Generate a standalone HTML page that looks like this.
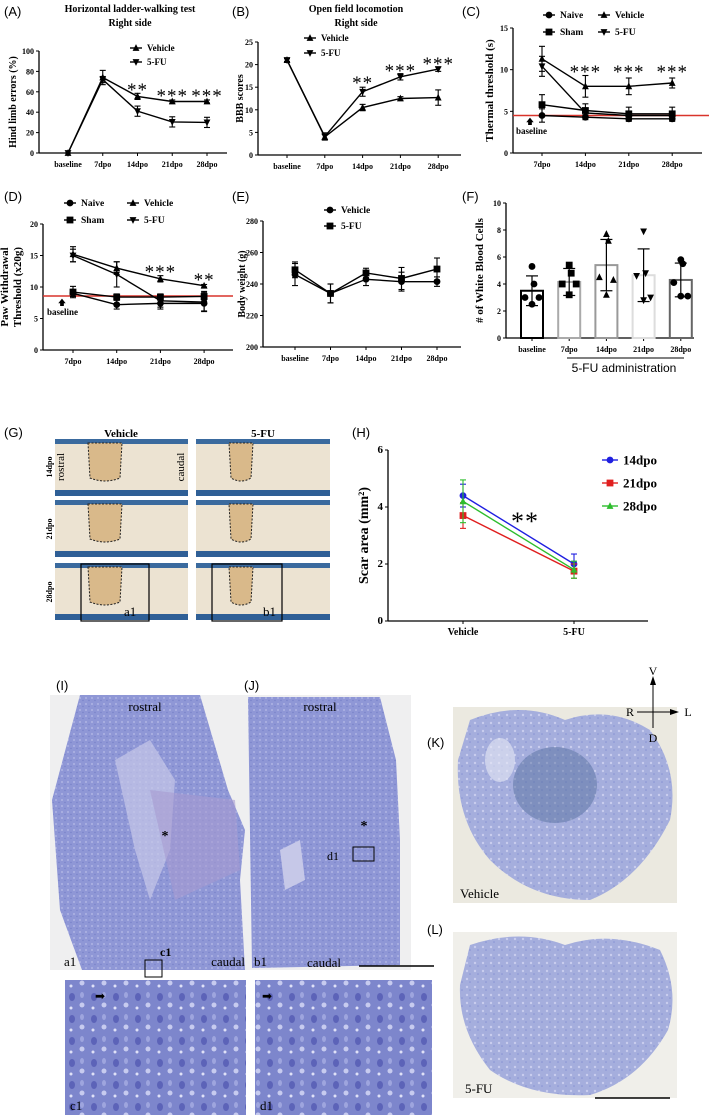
<!DOCTYPE html>
<html><head><meta charset="utf-8">
<style>
html,body{margin:0;padding:0;background:#fff;}
svg{display:block;font-family:"Liberation Serif",serif;}
.b{font-weight:bold;}
.lab{font-family:"Liberation Sans",sans-serif;font-size:13px;}
</style></head>
<body>
<svg id="fig" width="709" height="1115" viewBox="0 0 709 1115" xmlns="http://www.w3.org/2000/svg">
<defs>
<pattern id="tex" width="6" height="6" patternUnits="userSpaceOnUse"><rect width="6" height="6" fill="#8f97d6"/><circle cx="2" cy="2" r="0.9" fill="#b8bde8"/><circle cx="5" cy="4.5" r="0.7" fill="#7680c8"/></pattern>
<pattern id="cells" width="22" height="22" patternUnits="userSpaceOnUse"><rect width="22" height="22" fill="#7d86cc"/><ellipse cx="6" cy="7" rx="3" ry="4" fill="#5c63b8"/><circle cx="16" cy="15" r="2.5" fill="#c7cbef"/><ellipse cx="16" cy="5" rx="2" ry="3" fill="#9ea5de"/><circle cx="5" cy="18" r="1.5" fill="#dfe1f7"/></pattern>
<pattern id="sec" width="8" height="8" patternUnits="userSpaceOnUse"><rect width="8" height="8" fill="#a5aedd"/><circle cx="3" cy="3" r="1.2" fill="#c9cdee"/><circle cx="6" cy="6" r="0.8" fill="#8791d3"/></pattern>
</defs>

<g class="lab">
<text x="4" y="16">(A)</text>
<text x="232" y="16">(B)</text>
<text x="462" y="16">(C)</text>
<text x="4" y="201">(D)</text>
<text x="232" y="201">(E)</text>
<text x="462" y="201">(F)</text>
<text x="4" y="437">(G)</text>
<text x="352" y="437">(H)</text>
<text x="56" y="690">(I)</text>
<text x="244" y="690">(J)</text>
<text x="427" y="747">(K)</text>
<text x="427" y="934">(L)</text>
</g>

<text x="130" y="12" text-anchor="middle" class="b" font-size="10">Horizontal ladder-walking test</text>
<text x="130" y="26" text-anchor="middle" class="b" font-size="10">Right side</text>
<text x="356" y="12" text-anchor="middle" class="b" font-size="10">Open field locomotion</text>
<text x="356" y="26" text-anchor="middle" class="b" font-size="10">Right side</text>

<g id="charts"></g>

<g id="gpanel">
<text x="121" y="437" text-anchor="middle" class="b" font-size="11">Vehicle</text>
<text x="263" y="437" text-anchor="middle" class="b" font-size="11">5-FU</text>
<text transform="translate(52,467) rotate(-90)" text-anchor="middle" class="b" font-size="8">14dpo</text>
<text transform="translate(52,529) rotate(-90)" text-anchor="middle" class="b" font-size="8">21dpo</text>
<text transform="translate(52,592) rotate(-90)" text-anchor="middle" class="b" font-size="8">28dpo</text>
</g>

<g>
<rect x="50" y="695" width="195" height="275" fill="#efeff0"/>
<path d="M80,695 L200,695 L228,790 L245,830 L240,880 L245,970 L82,970 L60,910 L52,800 Z" fill="url(#tex)"/>
<path d="M115,760 L150,740 L175,780 L170,850 L150,900 L135,850 Z" fill="#c6c8e8" opacity="0.7"/>
<path d="M150,790 L235,800 L240,870 L175,900 Z" fill="#a79bd0" opacity="0.6"/>
<text x="145" y="711" text-anchor="middle" font-size="13">rostral</text>
<text x="165" y="840" text-anchor="middle" font-size="14" class="b">*</text>
<text x="160" y="956" font-size="12" class="b">c1</text>
<rect x="145" y="960" width="17" height="17" fill="none" stroke="#000" stroke-width="1"/>
<text x="64" y="966" font-size="13">a1</text>
<text x="245" y="966" text-anchor="end" font-size="13">caudal</text>
</g>
<g>
<rect x="245" y="695" width="166" height="275" fill="#efeff0"/>
<path d="M248,697 L380,697 L396,760 L400,840 L400,965 L252,968 Z" fill="url(#tex)"/>
<path d="M280,850 L300,840 L305,880 L285,890 Z" fill="#c6c8e8"/>
<text x="320" y="711" text-anchor="middle" font-size="13">rostral</text>
<text x="364" y="830" text-anchor="middle" font-size="14" class="b">*</text>
<text x="339" y="860" text-anchor="end" font-size="12">d1</text>
<rect x="353" y="847" width="21" height="14" fill="none" stroke="#000" stroke-width="1"/>
<text x="254" y="966" font-size="13">b1</text>
<text x="324" y="967" text-anchor="middle" font-size="13">caudal</text>
<line x1="359" y1="966" x2="434" y2="966" stroke="#000" stroke-width="1.5"/>
</g>
<rect x="65" y="980" width="181" height="135" fill="url(#cells)"/>
<text x="70" y="1110" font-size="13">c1</text>
<text x="95" y="1000" font-size="12">➡</text>
<rect x="255" y="980" width="177" height="135" fill="url(#cells)"/>
<text x="260" y="1110" font-size="13">d1</text>
<text x="262" y="1000" font-size="12">➡</text>

<g>
<rect x="453" y="707" width="224" height="196" fill="#ebe9e0"/>
<path d="M470,720 Q520,700 565,720 Q610,705 650,730 Q680,770 670,820 Q640,880 590,900 Q530,900 490,860 Q455,820 458,760 Z" fill="url(#sec)"/>
<ellipse cx="555" cy="785" rx="42" ry="38" fill="#4f6a98" opacity="0.45"/>
<ellipse cx="500" cy="760" rx="15" ry="22" fill="#e6e7f5" opacity="0.6"/>
<text x="460" y="898" font-size="13">Vehicle</text>
</g>
<g>
<line x1="653" y1="680" x2="653" y2="728" stroke="#000" stroke-width="1"/>
<line x1="637" y1="712" x2="674" y2="712" stroke="#000" stroke-width="1"/>
<path d="M650,685 L653,676 L656,685 Z M670,709 L679,712 L670,715 Z" fill="#000"/>
<text x="653" y="675" text-anchor="middle" font-size="12">V</text>
<text x="630" y="716" text-anchor="middle" font-size="12">R</text>
<text x="688" y="716" text-anchor="middle" font-size="12">L</text>
<text x="653" y="742" text-anchor="middle" font-size="12">D</text>
</g>
<g>
<rect x="453" y="932" width="224" height="166" fill="#f0efea"/>
<path d="M470,945 Q520,928 565,945 Q610,930 660,950 Q680,990 668,1030 Q640,1080 590,1095 Q530,1098 490,1070 Q458,1030 460,985 Z" fill="url(#sec)"/>
<text x="465" y="1093" font-size="13">5-FU</text>
<line x1="595" y1="1098" x2="670" y2="1098" stroke="#000" stroke-width="1.5"/>
</g>

<script>
// ---------- DATA ----------
var catsA = ["baseline","7dpo","14dpo","21dpo","28dpo"];
var aVehicle = [0,74,55.5,50.5,50.5];
var aVehicleErr = [0,7,3,1.5,1.5];
var a5FU = [0,72,41,30.5,30];
var a5FUErr = [0,3,5,5,5];

var catsB = ["baseline","7dpo","14dpo","21dpo","28dpo"];
var b5FU = [21,4.1,14,17.3,19];
var b5FUErr = [0.3,0.8,1,0.7,0.5];
var bVehicle = [21,4,10.5,12.5,12.7];
var bVehicleErr = [0.3,0.6,0.7,0.4,1.7];

var catsC = ["7dpo","14dpo","21dpo","28dpo"];
var cVehicle = [11.3,8,8,8.4];
var cVehicleErr = [1.5,1.3,1,0.6];
var c5FU = [10.4,4.8,4.5,4.5];
var c5FUErr = [1.2,0.5,0.4,0.4];
var cSham = [5.8,5.1,4.7,4.7];
var cShamErr = [1.2,0.8,0.8,0.8];
var cNaive = [4.5,4.3,4.1,4.1];
var cNaiveErr = [0.8,0.3,0.3,0.3];

var catsD = ["7dpo","14dpo","21dpo","28dpo"];
var dVehicle = [15.2,13,11.3,10.2];
var dVehicleErr = [1.2,1,0.5,0.2];
var d5FU = [15,12,7.8,7.6];
var d5FUErr = [1,2,1,1.5];
var dSham = [9.2,8.4,8.4,8.5];
var dShamErr = [0.9,0.5,0.5,0.8];
var dNaive = [9,7.2,7.4,7.4];
var dNaiveErr = [0.5,0.7,0.9,1.2];

var catsE = ["baseline","7dpo","14dpo","21dpo","28dpo"];
var eVehicle = [246,234,243,241.5,241.5];
var eVehicleErr = [7,6,4,6,3];
var e5FU = [249,234,247,243.5,249.5];
var e5FUErr = [5,6,3,7,7];

var catsF = ["baseline","7dpo","14dpo","21dpo","28dpo"];
var fMeans = [3.5,4.15,5.4,4.65,4.3];
var fSD = [1.1,1.0,1.9,1.95,1.25];
var fDots = [[5.3,4,3,3,2.5],[5.4,4.8,4,4,3.2],[7.7,7.2,4.5,4.3,3.2],[7.9,4.8,4.6,3.0,2.8],[5.8,5.5,4.1,3.1,3.1]];

var catsH = ["Vehicle","5-FU"];
var h14 = [4.4,2.0];
var h14Err = [0.4,0.35];
var h21 = [3.7,1.75];
var h21Err = [0.45,0.25];
var h28 = [4.2,1.8];
var h28Err = [0.75,0.3];

var NS = "http://www.w3.org/2000/svg";
var root = document.getElementById('charts');

function mk(tag, attrs, parent, name){
  var el = document.createElementNS(NS, tag);
  for (var k in attrs) el.setAttribute(k, attrs[k]);
  
  
  (parent || root).appendChild(el);
  return el;
}
function txt(s, attrs, parent, name){ var t = mk('text', attrs, parent, name); t.textContent = s; return t; }

function marker(g, type, x, y, color, name){
  var s = 3.4;
  if (type === 'circle') return mk('circle', {cx:x, cy:y, r:s, fill:color}, g, name);
  if (type === 'square') return mk('rect', {x:x-s, y:y-s, width:2*s, height:2*s, fill:color}, g, name);
  if (type === 'up') return mk('path', {d:'M'+x+','+(y-s-0.5)+' L'+(x+s)+','+(y+s-0.5)+' L'+(x-s)+','+(y+s-0.5)+' Z', fill:color}, g, name);
  return mk('path', {d:'M'+x+','+(y+s+0.5)+' L'+(x+s)+','+(y-s+0.5)+' L'+(x-s)+','+(y-s+0.5)+' Z', fill:color}, g, name);
}

function axes(c){
  var g = mk('g', {}, root, c.id + '-axes');
  c.y = function(v){ return c.y0 - (v - c.vmin) / (c.vmax - c.vmin) * (c.y0 - c.y1); };
  c.x = function(i){ return c.xFirst + i * c.xStep; };
  mk('line', {x1:c.ax, y1:c.y0, x2:c.ax, y2:c.y1, stroke:'#000', 'stroke-width':1.3}, g, c.id + '-y-axis');
  mk('line', {x1:c.ax, y1:c.y0, x2:c.xEnd, y2:c.y0, stroke:'#000', 'stroke-width':1.3}, g, c.id + '-x-axis');
  for (var v = c.vmin; v <= c.vmax + 1e-9; v += c.tick){
    var yy = c.y(v);
    mk('line', {x1:c.ax-3, y1:yy, x2:c.ax, y2:yy, stroke:'#000', 'stroke-width':1}, g, c.id + '-y-tick');
    txt(String(v), {x:c.ax-5, y:yy+3, 'text-anchor':'end', 'font-size':c.tfs || 8, 'class':'b'}, g, c.id + '-y-tick-label');
  }
  for (var i = 0; i < c.cats.length; i++){
    var xx = c.x(i);
    mk('line', {x1:xx, y1:c.y0, x2:xx, y2:c.y0+3, stroke:'#000', 'stroke-width':1}, g, c.id + '-x-tick');
    txt(c.cats[i], {x:xx, y:c.y0+14, 'text-anchor':'middle', 'font-size':c.xfs || 8, 'class':'b'}, g, c.id + '-x-tick-label');
  }
  if (c.ylabel) {
    var ly = (c.y0 + c.y1) / 2;
    txt(c.ylabel, {transform:'translate(' + c.ylx + ',' + ly + ') rotate(-90)', 'text-anchor':'middle', 'font-size':c.yfs || 10, 'class':'b'}, g, c.id + '-y-axis-title');
  }
  return g;
}

function series(c, vals, errs, type, color, name){
  var g = mk('g', {}, root, name);
  var pts = [];
  for (var i = 0; i < vals.length; i++) pts.push(c.x(i) + ',' + c.y(vals[i]));
  mk('polyline', {points:pts.join(' '), fill:'none', stroke:color, 'stroke-width':1.4}, g, name + '-line');
  for (var j = 0; j < vals.length; j++){
    var xx = c.x(j), yt = c.y(vals[j] + errs[j]), yb = c.y(vals[j] - errs[j]);
    mk('line', {x1:xx, y1:yt, x2:xx, y2:yb, stroke:color, 'stroke-width':1.1}, g, name + '-error-bar');
    mk('line', {x1:xx-3, y1:yt, x2:xx+3, y2:yt, stroke:color, 'stroke-width':1.1}, g, name + '-error-cap');
    mk('line', {x1:xx-3, y1:yb, x2:xx+3, y2:yb, stroke:color, 'stroke-width':1.1}, g, name + '-error-cap');
    marker(g, type, xx, c.y(vals[j]), color, name + '-point');
  }
}

function legend(x, y, type, label, name, fs, color, len){
  var g = mk('g', {}, root, name);
  color = color || '#000'; len = len || 12;
  mk('line', {x1:x-len/2, y1:y, x2:x+len/2, y2:y, stroke:color, 'stroke-width':1.4}, g, name + '-line');
  marker(g, type, x, y, color, name + '-marker');
  txt(label, {x:x+len/2+5, y:y+(fs||9)/3, 'font-size':fs || 9, 'class':'b'}, g, name + '-label');
}
function stars(s, x, y, name, fs){ txt(s, {x:x, y:y, 'text-anchor':'middle', 'font-size':fs || 19, 'letter-spacing':'1'}, root, name); }

// ---- A ----
var A = {id:'a', cats:catsA, ax:39, y0:153, y1:51, vmin:0, vmax:100, tick:20, xFirst:68, xStep:34.75, xEnd:227, ylabel:'Hind limb errors (%)', ylx:16};
axes(A);
series(A, aVehicle, aVehicleErr, 'up', '#000', 'a-series-vehicle');
series(A, a5FU, a5FUErr, 'down', '#000', 'a-series-5fu');
legend(136, 48, 'up', 'Vehicle', 'a-legend-vehicle');
legend(136, 62, 'down', '5-FU', 'a-legend-5fu');
stars('**', A.x(2), 96, 'a-sig-14dpo');
stars('***', A.x(3), 102, 'a-sig-21dpo');
stars('***', A.x(4), 102, 'a-sig-28dpo');

// ---- B ----
var B = {id:'b', cats:catsB, ax:258, y0:155, y1:42, vmin:0, vmax:25, tick:5, xFirst:287, xStep:37.8, xEnd:461, ylabel:'BBB scores', ylx:243};
axes(B);
series(B, b5FU, b5FUErr, 'down', '#000', 'b-series-5fu');
series(B, bVehicle, bVehicleErr, 'up', '#000', 'b-series-vehicle');
legend(310, 38, 'up', 'Vehicle', 'b-legend-vehicle');
legend(310, 53, 'down', '5-FU', 'b-legend-5fu');
stars('**', B.x(2), 89, 'b-sig-14dpo');
stars('***', B.x(3), 77, 'b-sig-21dpo');
stars('***', B.x(4), 70, 'b-sig-28dpo');

// ---- C ----
var C = {id:'c', cats:catsC, ax:513, y0:153, y1:28, vmin:0, vmax:15, tick:5, xFirst:542, xStep:43.4, xEnd:702, ylabel:'Thermal threshold (s)', ylx:493, yfs:11};
axes(C);
mk('line', {x1:513, y1:C.y(4.5), x2:709, y2:C.y(4.5), stroke:'#d9342b', 'stroke-width':1.5}, root, 'c-baseline-line');
series(C, cVehicle, cVehicleErr, 'up', '#000', 'c-series-vehicle');
series(C, c5FU, c5FUErr, 'down', '#000', 'c-series-5fu');
series(C, cSham, cShamErr, 'square', '#000', 'c-series-sham');
series(C, cNaive, cNaiveErr, 'circle', '#000', 'c-series-naive');
legend(549, 15, 'circle', 'Naive', 'c-legend-naive', 9.5);
legend(604, 15, 'up', 'Vehicle', 'c-legend-vehicle', 9.5);
legend(549, 32, 'square', 'Sham', 'c-legend-sham', 9.5);
legend(604, 32, 'down', '5-FU', 'c-legend-5fu', 9.5);
stars('***', C.x(1), 78, 'c-sig-14dpo');
stars('***', C.x(2), 78, 'c-sig-21dpo');
stars('***', C.x(3), 78, 'c-sig-28dpo');
txt('🡅', {x:530, y:124, 'text-anchor':'middle', 'font-size':8}, root, 'c-baseline-arrow');
txt('baseline', {x:516, y:134, 'font-size':9, 'class':'b'}, root, 'c-baseline-label');

// ---- D ----
var D = {id:'d', cats:catsD, ax:43, y0:350, y1:224, vmin:0, vmax:20, tick:5, xFirst:73, xStep:43.7, xEnd:233, ylabel:'', ylx:0};
axes(D);
txt('Paw Withdrawal', {transform:'translate(8,287) rotate(-90)', 'text-anchor':'middle', 'font-size':11, 'class':'b'}, root, 'd-y-axis-title-1');
txt('Threshold (x20g)', {transform:'translate(21,287) rotate(-90)', 'text-anchor':'middle', 'font-size':11, 'class':'b'}, root, 'd-y-axis-title-2');
mk('line', {x1:43, y1:296, x2:233, y2:296, stroke:'#d9342b', 'stroke-width':1.5}, root, 'd-baseline-line');
series(D, dVehicle, dVehicleErr, 'up', '#000', 'd-series-vehicle');
series(D, d5FU, d5FUErr, 'down', '#000', 'd-series-5fu');
series(D, dSham, dShamErr, 'square', '#000', 'd-series-sham');
series(D, dNaive, dNaiveErr, 'circle', '#000', 'd-series-naive');
legend(70, 203, 'circle', 'Naive', 'd-legend-naive', 9.5);
legend(133, 203, 'up', 'Vehicle', 'd-legend-vehicle', 9.5);
legend(70, 220, 'square', 'Sham', 'd-legend-sham', 9.5);
legend(133, 220, 'down', '5-FU', 'd-legend-5fu', 9.5);
stars('***', D.x(2), 278, 'd-sig-21dpo');
stars('**', D.x(3), 286, 'd-sig-28dpo');
txt('🡅', {x:62, y:305, 'text-anchor':'middle', 'font-size':8}, root, 'd-baseline-arrow');
txt('baseline', {x:47, y:315, 'font-size':9, 'class':'b'}, root, 'd-baseline-label');

// ---- E ----
var E = {id:'e', cats:catsE, ax:263, y0:347, y1:221, vmin:200, vmax:280, tick:20, xFirst:295, xStep:35.5, xEnd:461, ylabel:'Body weight (g)', ylx:245};
axes(E);
series(E, eVehicle, eVehicleErr, 'circle', '#000', 'e-series-vehicle');
series(E, e5FU, e5FUErr, 'square', '#000', 'e-series-5fu');
legend(330, 210, 'circle', 'Vehicle', 'e-legend-vehicle', 9.5);
legend(330, 226, 'square', '5-FU', 'e-legend-5fu', 9.5);

// ---- F ----
var F = {id:'f', cats:catsF, ax:506, y0:338, y1:203, vmin:0, vmax:10, tick:2, xFirst:532, xStep:37.2, xEnd:694, ylabel:'# of White Blood Cells', ylx:483, yfs:11};
axes(F);
var fColors = ['#000','#aaa','#999','#ddd','#666'];
var fTypes = ['circle','square','up','down','circle'];
var fJitter = [0, 2, -7, 7, 0];
for (var i = 0; i < fMeans.length; i++){
  var g = mk('g', {}, root, 'f-bar-group-' + catsF[i]);
  var bx = F.x(i), by = F.y(fMeans[i]);
  mk('rect', {x:bx-11, y:by, width:22, height:F.y0-by, fill:'#fff', stroke:fColors[i], 'stroke-width':2}, g, 'f-bar');
  var yt = F.y(fMeans[i] + fSD[i]), yb = F.y(fMeans[i] - fSD[i]);
  mk('line', {x1:bx, y1:yt, x2:bx, y2:yb, stroke:'#000', 'stroke-width':1.2}, g, 'f-error-bar');
  mk('line', {x1:bx-6, y1:yt, x2:bx+6, y2:yt, stroke:'#000', 'stroke-width':1.2}, g, 'f-error-cap');
  mk('line', {x1:bx-6, y1:yb, x2:bx+6, y2:yb, stroke:'#000', 'stroke-width':1.2}, g, 'f-error-cap');
  for (var k = 0; k < fDots[i].length; k++){
    marker(g, fTypes[i], bx + fJitter[k], F.y(fDots[i][k]), '#000', 'f-dot');
  }
}
mk('line', {x1:567, y1:358, x2:684, y2:358, stroke:'#000', 'stroke-width':1}, root, 'f-admin-line');
txt('5-FU administration', {x:624, y:372, 'text-anchor':'middle', 'font-size':12, 'font-family':'Liberation Sans, sans-serif'}, root, 'f-admin-label');

// ---- H ----
var H = {id:'h', cats:catsH, ax:388, y0:621, y1:450, vmin:0, vmax:6, tick:2, xFirst:463, xStep:111, xEnd:648, ylabel:'Scar area (mm\u00B2)', ylx:368, yfs:14, tfs:11, xfs:10};
axes(H);
series(H, h14, h14Err, 'circle', '#1f1fe0', 'h-series-14dpo');
series(H, h21, h21Err, 'square', '#e01f1f', 'h-series-21dpo');
series(H, h28, h28Err, 'up', '#2ebd2e', 'h-series-28dpo');
legend(610, 460, 'circle', '14dpo', 'h-legend-14dpo', 13, '#1f1fe0', 16);
legend(610, 483, 'square', '21dpo', 'h-legend-21dpo', 13, '#e01f1f', 16);
legend(610, 506, 'up', '28dpo', 'h-legend-28dpo', 13, '#2ebd2e', 16);
stars('**', 525, 530, 'h-sig', 26);

// ---- G photos ----
var gp = document.getElementById('gpanel');
var gRows = [439, 500, 563];
var gCols = [[55,133],[196,134]];
for (var r = 0; r < 3; r++){
  for (var cI = 0; cI < 2; cI++){
    var px = gCols[cI][0], pw = gCols[cI][1], py = gRows[r], ph = 57;
    var pg = mk('g', {}, gp, 'photo-' + (cI ? '5fu' : 'vehicle') + '-row' + (r+1));
    mk('rect', {x:px, y:py, width:pw, height:ph, fill:'#ece3d2'}, pg, 'photo-bg');
    mk('rect', {x:px, y:py, width:pw, height:5, fill:'#3a6a9e'}, pg, 'photo-top-band');
    mk('rect', {x:px, y:py+ph-6, width:pw, height:6, fill:'#2f5f96'}, pg, 'photo-bottom-band');
    var cx = px + (cI ? 45 : 50), w = cI ? 24 : 34;
    mk('path', {d:'M'+(cx-w/2)+','+(py+4)+' L'+(cx+w/2)+','+(py+4)+' L'+(cx+w/2-2)+','+(py+ph-18)+' Q'+cx+','+(py+ph-12)+' '+(cx-w/2+2)+','+(py+ph-18)+' Z', fill:'#d9b98a', stroke:'#222', 'stroke-width':1, 'stroke-dasharray':'2,1.5'}, pg, 'photo-scar-outline');
  }
}
txt('rostral', {transform:'translate(64,467) rotate(-90)', 'text-anchor':'middle', 'font-size':11}, gp, 'g-rostral');
txt('caudal', {transform:'translate(184,467) rotate(-90)', 'text-anchor':'middle', 'font-size':11}, gp, 'g-caudal');
mk('rect', {x:81, y:564, width:68, height:57, fill:'none', stroke:'#000', 'stroke-width':1.2}, gp, 'g-a1-box');
txt('a1', {x:124, y:616, 'font-size':13}, gp, 'g-a1-label');
mk('rect', {x:212, y:564, width:70, height:57, fill:'none', stroke:'#000', 'stroke-width':1.2}, gp, 'g-b1-box');
txt('b1', {x:263, y:616, 'font-size':13}, gp, 'g-b1-label');
</script>
</svg>
</body></html>
